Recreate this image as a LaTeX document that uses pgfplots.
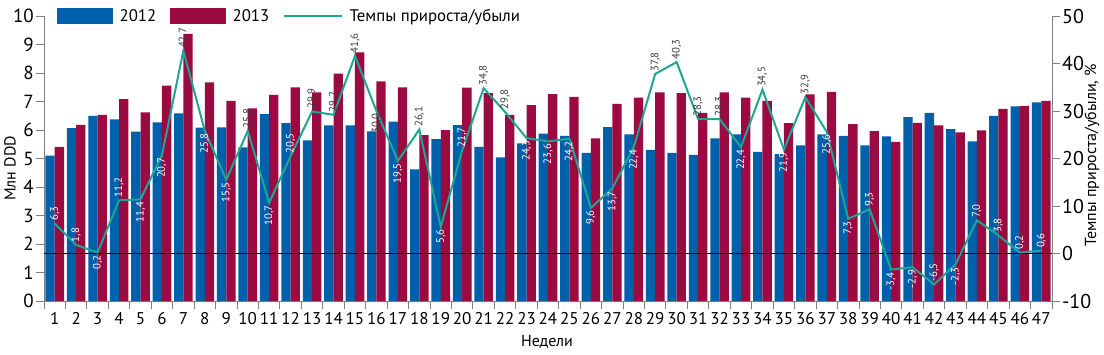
\documentclass[border=0pt]{standalone}
\usepackage{pgfplots}
\usepackage{pgfplotstable}
\pgfplotsset{compat=1.18}
\usepackage{fontspec}
\setmainfont{PT Sans}
\definecolor{cA}{HTML}{0060AA}
\definecolor{cB}{HTML}{9B0A41}
\definecolor{cL}{HTML}{1EA596}
\definecolor{axgray}{HTML}{808080}
\definecolor{labgray}{HTML}{3A3A3A}

\pgfplotstableread{
x a b
1 5.10 5.41
2 6.07 6.18
3 6.50 6.53
4 6.37 7.08
5 5.94 6.62
6 6.27 7.56
7 6.58 9.37
8 6.08 7.67
9 6.09 7.02
10 5.39 6.76
11 6.56 7.23
12 6.24 7.50
13 5.64 7.32
14 6.16 7.98
15 6.16 8.72
16 5.95 7.71
17 6.29 7.50
18 4.62 5.82
19 5.68 6.00
20 6.17 7.49
21 5.41 7.29
22 5.04 6.53
23 5.53 6.87
24 5.87 7.26
25 5.79 7.16
26 5.20 5.71
27 6.10 6.92
28 5.85 7.14
29 5.30 7.32
30 5.20 7.29
31 5.13 6.60
32 5.71 7.32
33 5.85 7.14
34 5.23 7.02
35 5.15 6.24
36 5.46 7.25
37 5.85 7.34
38 5.79 6.21
39 5.46 5.96
40 5.78 5.58
41 6.45 6.25
42 6.60 6.16
43 6.03 5.92
44 5.60 5.99
45 6.50 6.74
46 6.83 6.85
47 6.97 7.02
}\bars

\pgfplotstableread{
x y
1 6.3
2 1.8
3 0.2
4 11.2
5 11.4
6 20.7
7 42.7
8 25.8
9 15.5
10 25.8
11 10.7
12 20.5
13 29.9
14 29.2
15 41.6
16 30.0
17 19.5
18 26.1
19 5.6
20 21.7
21 34.8
22 29.8
23 24.3
24 23.6
25 24.2
26 9.6
27 13.7
28 22.4
29 37.8
30 40.3
31 28.3
32 28.3
33 22.4
34 34.5
35 21.9
36 32.9
37 25.6
38 7.3
39 9.3
40 -3.4
41 -2.9
42 -6.5
43 -2.3
44 7.0
45 3.8
46 0.2
47 0.6
}\rate

% labels above the line, white
\pgfplotstableread{
x y lab
1 6.3 6,3
2 1.8 1,8
4 11.2 11,2
12 20.5 20,5
20 21.7 21,7
39 9.3 9,3
42 -6.5 -6,5
44 7.0 7,0
45 3.8 3,8
46 0.2 0,2
47 0.6 0,6
}\aw
% labels above the line, dark
\pgfplotstableread{
x y lab
7 42.7 42,7
10 25.8 25,8
13 29.9 29,9
14 29.2 29,2
15 41.6 41,6
18 26.1 26,1
21 34.8 34,8
22 29.8 29,8
29 37.8 37,8
30 40.3 40,3
31 28.3 28,3
32 28.3 28,3
34 34.5 34,5
36 32.9 32,9
}\ad
% labels below the line, white
\pgfplotstableread{
x y lab
3 0.2 0,2
5 11.4 11,4
6 20.7 20,7
8 25.8 25,8
9 15.5 15,5
11 10.7 10,7
17 19.5 19,5
19 5.6 5,6
23 24.3 24,3
24 23.6 23,6
25 24.2 24,2
26 9.6 9,6
27 13.7 13,7
28 22.4 22,4
33 22.4 22,4
35 21.9 21,9
37 25.6 25,6
38 7.3 7,3
40 -3.4 -3,4
41 -2.9 -2,9
43 -2.3 -2,3
}\bw
% labels below the line, dark
\pgfplotstableread{
x y lab
16 30.0 30,0
}\bd

\pgfplotsset{
  lbl/.style 2 args={draw=none, mark=none, forget plot,
    nodes near coords, point meta=explicit symbolic,
    every node near coord/.append style={rotate=90, anchor=#1, text=#2,
      font=\fontsize{10.8}{10.8}\selectfont, inner sep=2.5pt}},
}

\begin{document}
\begin{tikzpicture}
\begin{axis}[
  at={(0pt,0pt)}, anchor=south west,
  scale only axis, width=1008pt, height=285pt,
  xmin=0.5, xmax=47.5, ymin=0, ymax=10,
  ybar=0pt, bar width=9.3pt,
  axis x line*=bottom, axis y line*=left,
  axis line style={axgray, line width=0.9pt},
  xtick={0.5,1.5,...,47.5},
  x tick label as interval,
  xticklabels={1,2,3,4,5,6,7,8,9,10,11,12,13,14,15,16,17,18,19,20,21,22,23,24,25,26,27,28,29,30,31,32,33,34,35,36,37,38,39,40,41,42,43,44,45,46,47},
  ytick={0,1,...,10},
  tick align=outside,
  major tick length=8pt,
  tick style={axgray, line width=0.9pt},
  /pgf/number format/assume math mode=true,
  xticklabel style={font=\fontsize{17}{17}\selectfont, inner sep=3pt},
  yticklabel style={font=\fontsize{19}{19}\selectfont, inner sep=2pt},
  every axis y label/.style={at={(axis description cs:-0.0337,0.465)}, anchor=center, rotate=90},
  ylabel={Млн DDD},
  every axis x label/.style={at={(axis description cs:0.499,-0.144)}, anchor=center},
  xlabel={Недели},
  label style={font=\fontsize{16}{16}\selectfont},
]
\addplot[fill=cA, draw=none] table[x=x, y=a]{\bars};
\addplot[fill=cB, draw=none] table[x=x, y=b]{\bars};
\end{axis}

\begin{axis}[
  at={(0pt,0pt)}, anchor=south west,
  scale only axis, width=1008pt, height=285pt,
  xmin=0.5, xmax=47.5, ymin=-10, ymax=50,
  axis x line=none, axis y line*=right,
  axis line style={axgray, line width=0.9pt},
  ytick={-10,0,...,50},
  tick align=outside,
  major tick length=8pt,
  tick style={axgray, line width=0.9pt},
  /pgf/number format/assume math mode=true,
  yticklabel style={font=\fontsize{20}{20}\selectfont, inner sep=2pt},
  every axis y label/.style={at={(axis description cs:1.0397,0.512)}, anchor=center, rotate=90},
  ylabel={Темпы прироста/убыли, \%},
  label style={font=\fontsize{16}{16}\selectfont},
  legend columns=-1,
  legend style={at={(rel axis cs:0,1)}, anchor=west, xshift=13pt, draw=none, fill=none,
    inner sep=0pt, font=\fontsize{16.8}{16.8}\selectfont,
    /tikz/every odd column/.append style={column sep=5pt},
    /tikz/every even column/.append style={column sep=12pt}},
]
\addlegendimage{legend image code/.code={\fill[cA] (0pt,-7.5pt) rectangle (55pt,7.5pt);}}
\addlegendimage{legend image code/.code={\fill[cB] (0pt,-7.5pt) rectangle (55pt,7.5pt);}}
\addlegendimage{legend image code/.code={\draw[cL, line width=1.5pt] (0pt,0pt) -- (58pt,0pt);}}
\addplot[black, line width=0.7pt, forget plot] coordinates {(0.5,0) (47.5,0)};
\addplot[cL, line width=2pt, mark=none, forget plot] table[x=x, y=y]{\rate};
\addplot[lbl={west}{white}] table[x=x, y=y, meta=lab]{\aw};
\addplot[lbl={west}{labgray}] table[x=x, y=y, meta=lab]{\ad};
\addplot[lbl={east}{white}] table[x=x, y=y, meta=lab]{\bw};
\addplot[lbl={east}{labgray}] table[x=x, y=y, meta=lab]{\bd};
\legend{2012, 2013, Темпы прироста/убыли}
\end{axis}
\pgfresetboundingbox
\path[use as bounding box] (-44pt,-53pt) rectangle (1060pt,301pt);
\end{tikzpicture}
\end{document}
